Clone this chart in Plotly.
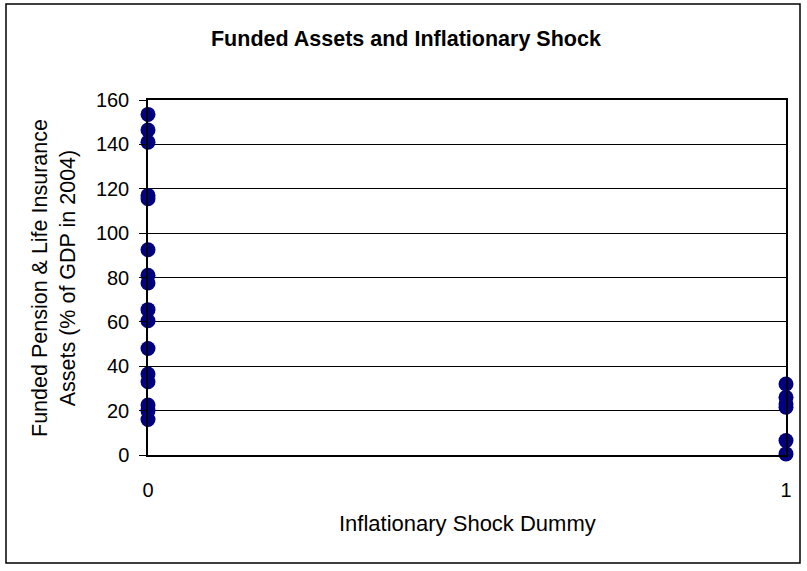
import plotly.graph_objects as go

# Data
shock0_values = [153.5, 146.5, 141, 117, 115.5, 92.5, 81, 77.5, 65.5, 60.5, 48, 36.5, 33, 22.5, 20, 16]
shock1_values = [32, 26, 23, 21.5, 6.5, 0.5]
x_ticks = [0, 1]
y_ticks = [0, 20, 40, 60, 80, 100, 120, 140, 160]

title_text = "<b>Funded Assets and Inflationary Shock</b>"
x_title = "Inflationary Shock Dummy"
y_title = "Funded Pension & Life Insurance<br>Assets (% of GDP in 2004)"

FONT = "Arial, Liberation Sans, sans-serif"
NAVY = "#000080"

xs = [0] * len(shock0_values) + [1] * len(shock1_values)
ys = shock0_values + shock1_values

fig = go.Figure()
fig.add_trace(go.Scatter(
    x=xs, y=ys, mode="markers",
    marker=dict(color=NAVY, size=15, line=dict(width=0)),
    cliponaxis=False, showlegend=False,
))

L, R, T, B = 148, 21, 100, 116
W, H = 807, 571
pw = W - L - R
ph = H - T - B

def px2x(p):
    return (p - L) / pw

def py2y(p):
    return (H - B - p) / ph

fig.update_layout(
    width=W, height=H,
    margin=dict(l=L, r=R, t=T, b=B, autoexpand=False),
    paper_bgcolor="white", plot_bgcolor="white",
    font=dict(family=FONT, color="black", size=20),
    title=dict(text=title_text, x=0.503, xref="container", xanchor="center",
               y=1 - 38 / H, yref="container", yanchor="middle",
               font=dict(family=FONT, size=21.5, color="black")),
    xaxis=dict(range=[0, 1], tickvals=x_ticks, ticktext=[str(v) for v in x_ticks],
               showgrid=False, zeroline=False, showline=True, linecolor="black",
               linewidth=1.5, mirror=True, ticks="", ticklabelstandoff=16,
               tickfont=dict(size=20)),
    yaxis=dict(range=[0, 160], tickvals=y_ticks, showgrid=True, gridcolor="black",
               gridwidth=1, zeroline=False, showline=True, linecolor="black",
               linewidth=1.5, mirror=True, ticks="outside", ticklen=7,
               tickcolor="black", ticklabelstandoff=6, tickfont=dict(size=20)),
)

fig.add_annotation(text=x_title, xref="paper", yref="paper",
                   x=px2x(467), y=py2y(523), showarrow=False,
                   xanchor="center", yanchor="middle", font=dict(size=22))
fig.add_annotation(text=y_title, xref="paper", yref="paper",
                   x=px2x(54), y=py2y(278), showarrow=False, textangle=-90,
                   xanchor="center", yanchor="middle", font=dict(size=21.5))

fig.add_shape(type="rect", xref="paper", yref="paper",
              x0=px2x(6), x1=px2x(800), y0=py2y(563), y1=py2y(4),
              line=dict(color="black", width=1.5), layer="below")

fig.write_html("out.html", config={"displayModeBar": False})

# remove the default page margin so the figure sits at the window's top-left
with open("out.html", encoding="utf-8") as f:
    html = f.read()
html = html.replace("<head>", "<head><style>html,body{margin:0;padding:0;overflow:hidden;}</style>", 1)
with open("out.html", "w", encoding="utf-8") as f:
    f.write(html)
